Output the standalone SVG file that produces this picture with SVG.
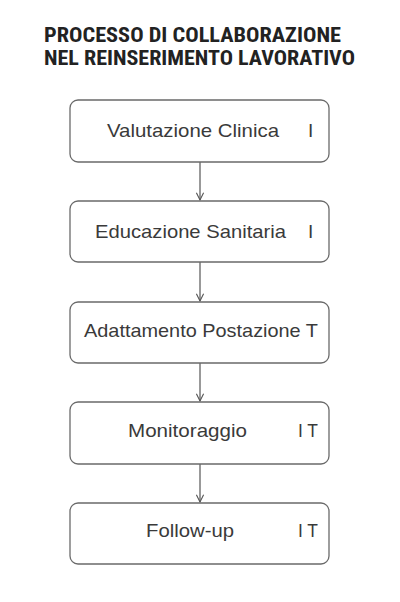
<svg xmlns="http://www.w3.org/2000/svg" width="400" height="602" viewBox="0 0 400 602">
<defs>
<style>
.title{font-family:"Roboto Condensed","DejaVu Sans Condensed","Liberation Sans Narrow","Liberation Sans",sans-serif;font-size:20px;font-weight:bold;fill:#222222;}
.box{fill:#ffffff;stroke:#6a6a6a;stroke-width:1.3;}
.lbl{font-family:"Liberation Sans",Arial,sans-serif;font-size:19px;fill:#3a3a3a;}
.conn{stroke:#555555;stroke-width:1.2;fill:none;}
</style>
<marker id="arr" viewBox="0 0 10 10" refX="9" refY="5" markerWidth="9" markerHeight="9" orient="auto" markerUnits="userSpaceOnUse">
<path d="M1,1 L9,5 L1,9" fill="none" stroke="#555555" stroke-width="1.2"/>
</marker>
</defs>
<rect width="400" height="602" fill="#ffffff"/>
<g id="title">
<text class="title" x="44" y="42" textLength="297" lengthAdjust="spacingAndGlyphs">PROCESSO DI COLLABORAZIONE</text>
<text class="title" x="44" y="65" textLength="311" lengthAdjust="spacingAndGlyphs">NEL REINSERIMENTO LAVORATIVO</text>
</g>
<g id="connectors">
<line class="conn" x1="200" y1="162" x2="200" y2="200" marker-end="url(#arr)"/>
<line class="conn" x1="200" y1="262" x2="200" y2="301" marker-end="url(#arr)"/>
<line class="conn" x1="200" y1="363" x2="200" y2="401" marker-end="url(#arr)"/>
<line class="conn" x1="200" y1="464" x2="200" y2="502" marker-end="url(#arr)"/>
</g>
<g id="node1">
<rect class="box" x="70" y="100" width="259" height="62" rx="8"/>
<text class="lbl" x="107" y="137" textLength="172" lengthAdjust="spacingAndGlyphs">Valutazione Clinica</text>
<text class="lbl" x="308" y="137">I</text>
</g>
<g id="node2">
<rect class="box" x="70" y="201" width="259" height="61" rx="8"/>
<text class="lbl" x="95" y="238" textLength="191" lengthAdjust="spacingAndGlyphs">Educazione Sanitaria</text>
<text class="lbl" x="308" y="238">I</text>
</g>
<g id="node3">
<rect class="box" x="70" y="302" width="259" height="61" rx="8"/>
<text class="lbl" x="84" y="337" textLength="234" lengthAdjust="spacingAndGlyphs">Adattamento Postazione T</text>
</g>
<g id="node4">
<rect class="box" x="70" y="402" width="259" height="62" rx="8"/>
<text class="lbl" x="128" y="437" textLength="119" lengthAdjust="spacingAndGlyphs">Monitoraggio</text>
<text class="lbl" x="298" y="437" textLength="20" lengthAdjust="spacingAndGlyphs">I T</text>
</g>
<g id="node5">
<rect class="box" x="70" y="503" width="259" height="61" rx="8"/>
<text class="lbl" x="146" y="537" textLength="88" lengthAdjust="spacingAndGlyphs">Follow-up</text>
<text class="lbl" x="298" y="537" textLength="20" lengthAdjust="spacingAndGlyphs">I T</text>
</g>
</svg>
